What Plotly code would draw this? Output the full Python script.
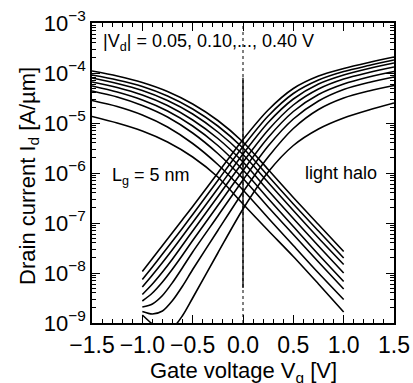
import plotly.graph_objects as go

# Drain voltages |Vd| (V)
vd_values = [0.05, 0.10, 0.15, 0.20, 0.25, 0.30, 0.35, 0.40]

# n-type branch (current rises with Vg), log10(Id [A/um])
vg_rise = [-1.0, -0.9, -0.8, -0.7, -0.6, -0.5, -0.25, 0.0, 0.25, 0.5, 0.75, 1.0, 1.25, 1.5]
log_id_rise_005 = [-8.84, -9.02, -9.15, -9.10, -8.85, -8.50, -7.60, -6.72, -5.98, -5.45, -5.12, -4.90, -4.74, -4.60]
log_id_rise_010 = [-8.77, -8.82, -8.76, -8.55, -8.26, -7.93, -7.15, -6.38, -5.68, -5.11, -4.73, -4.50, -4.36, -4.25]
log_id_rise_015 = [-8.68, -8.62, -8.45, -8.19, -7.89, -7.58, -6.86, -6.14, -5.46, -4.92, -4.56, -4.33, -4.19, -4.08]
log_id_rise_020 = [-8.56, -8.40, -8.18, -7.92, -7.64, -7.35, -6.65, -5.95, -5.29, -4.77, -4.43, -4.22, -4.08, -3.97]
log_id_rise_025 = [-8.43, -8.22, -7.98, -7.72, -7.44, -7.16, -6.47, -5.78, -5.14, -4.64, -4.32, -4.12, -3.99, -3.88]
log_id_rise_030 = [-8.28, -8.04, -7.79, -7.53, -7.26, -6.99, -6.31, -5.62, -4.99, -4.52, -4.22, -4.04, -3.91, -3.80]
log_id_rise_035 = [-8.13, -7.88, -7.62, -7.36, -7.10, -6.83, -6.15, -5.47, -4.86, -4.41, -4.14, -3.97, -3.85, -3.74]
log_id_rise_040 = [-7.97, -7.71, -7.45, -7.19, -6.93, -6.67, -6.00, -5.33, -4.74, -4.31, -4.06, -3.91, -3.79, -3.68]

# p-type branch (current falls with Vg)
vg_fall = [-1.5, -1.25, -1.0, -0.75, -0.5, -0.25, 0.0, 0.25, 0.5, 0.75, 1.0]
log_id_fall_005 = [-4.87, -5.00, -5.16, -5.38, -5.68, -6.08, -6.62, -7.15, -7.67, -8.22, -8.78]
log_id_fall_010 = [-4.55, -4.67, -4.84, -5.08, -5.41, -5.83, -6.34, -6.90, -7.45, -8.00, -8.53]
log_id_fall_015 = [-4.36, -4.48, -4.65, -4.88, -5.20, -5.61, -6.11, -6.68, -7.23, -7.78, -8.32]
log_id_fall_020 = [-4.26, -4.38, -4.54, -4.76, -5.06, -5.45, -5.94, -6.51, -7.07, -7.63, -8.17]
log_id_fall_025 = [-4.18, -4.29, -4.44, -4.65, -4.94, -5.31, -5.78, -6.35, -6.91, -7.46, -8.00]
log_id_fall_030 = [-4.10, -4.21, -4.35, -4.55, -4.82, -5.18, -5.63, -6.19, -6.75, -7.30, -7.83]
log_id_fall_035 = [-4.04, -4.14, -4.27, -4.46, -4.72, -5.06, -5.50, -6.06, -6.62, -7.16, -7.70]
log_id_fall_040 = [-3.96, -4.06, -4.19, -4.37, -4.62, -4.95, -5.38, -5.93, -6.49, -7.03, -7.57]

# Vg = 0 marker line
vg_zero = [0.0, 0.0]
id_zero_full = [1e-9, 1e-3]
id_zero_solid = [8e-5, 5e-9]

x_tick_vals = [-1.5, -1.0, -0.5, 0.0, 0.5, 1.0, 1.5]
x_tick_text = ["\u22121.5", "\u22121.0", "\u22120.5", "0.0", "0.5", "1.0", "1.5"]
y_tick_vals = [1e-9, 1e-8, 1e-7, 1e-6, 1e-5, 1e-4, 1e-3]
y_tick_text = ["10<sup>\u22129</sup>", "10<sup>\u22128</sup>", "10<sup>\u22127</sup>", "10<sup>\u22126</sup>",
               "10<sup>\u22125</sup>", "10<sup>\u22124</sup>", "10<sup>\u22123</sup>"]

rise_sets = [log_id_rise_005, log_id_rise_010, log_id_rise_015, log_id_rise_020,
             log_id_rise_025, log_id_rise_030, log_id_rise_035, log_id_rise_040]
fall_sets = [log_id_fall_005, log_id_fall_010, log_id_fall_015, log_id_fall_020,
             log_id_fall_025, log_id_fall_030, log_id_fall_035, log_id_fall_040]

FONT = "Liberation Sans, Arial, sans-serif"
fig = go.Figure()

fig.add_trace(go.Scatter(x=vg_zero, y=id_zero_full, mode="lines",
                         line=dict(color="black", width=1, dash="dot"), showlegend=False))
fig.add_trace(go.Scatter(x=vg_zero, y=id_zero_solid, mode="lines",
                         line=dict(color="black", width=1.3), showlegend=False))

for vd, vals in zip(vd_values, rise_sets):
    fig.add_trace(go.Scatter(x=vg_rise, y=[10 ** v for v in vals], mode="lines",
                             line=dict(color="black", width=1.6, shape="spline", smoothing=0.8),
                             name=f"n {vd}", showlegend=False))
for vd, vals in zip(vd_values, fall_sets):
    fig.add_trace(go.Scatter(x=vg_fall, y=[10 ** v for v in vals], mode="lines",
                             line=dict(color="black", width=1.6, shape="spline", smoothing=0.8),
                             name=f"p {vd}", showlegend=False))

fig.update_layout(
    width=413, height=383,
    margin=dict(l=92, r=19, t=23, b=60, autoexpand=False),
    paper_bgcolor="white", plot_bgcolor="white",
    font=dict(family=FONT, color="black", size=22),
    showlegend=False,
    xaxis=dict(
        range=[-1.5, 1.5], tickvals=x_tick_vals, ticktext=x_tick_text,
        ticks="inside", ticklen=8, tickwidth=1.3, tickcolor="black",
        ticklabelstandoff=1,
        minor=dict(ticks="inside", ticklen=4, dtick=0.1, tickwidth=1, tickcolor="black", showgrid=False),
        showline=True, linecolor="black", linewidth=1.5, mirror="allticks",
        showgrid=False, zeroline=False,
        tickfont=dict(size=23),
        automargin=False,
    ),
    yaxis=dict(
        type="log", range=[-9, -3], tickvals=y_tick_vals, ticktext=y_tick_text,
        ticks="inside", ticklen=8, tickwidth=1.3, tickcolor="black",
        minor=dict(ticks="inside", ticklen=4, dtick="D1", tickwidth=1, tickcolor="black", showgrid=False),
        showline=True, linecolor="black", linewidth=1.5, mirror="allticks",
        showgrid=False, zeroline=False,
        tickfont=dict(size=22),
        automargin=False,
    ),
    annotations=[
        dict(x=0.5, y=-0.163, xref="paper", yref="paper", xanchor="center", yanchor="middle",
             text="Gate voltage V<sub>g</sub> [V]", showarrow=False, font=dict(size=22)),
        dict(x=-0.209, y=0.49, xref="paper", yref="paper", xanchor="center", yanchor="middle",
             text="Drain current I<sub>d</sub> [A/\u00b5m]", textangle=-90, showarrow=False, font=dict(size=22)),
        dict(x=0.03, y=0.935, xref="paper", yref="paper", xanchor="left", yanchor="middle",
             text="|V<sub>d</sub>| = 0.05, 0.10,..., 0.40 V", showarrow=False, font=dict(size=18)),
        dict(x=0.06, y=0.49, xref="paper", yref="paper", xanchor="left", yanchor="middle",
             text="L<sub>g</sub> = 5 nm", showarrow=False, font=dict(size=18)),
        dict(x=0.70, y=0.50, xref="paper", yref="paper", xanchor="left", yanchor="middle",
             text="light halo", showarrow=False, font=dict(size=18)),
    ],
)

fig.write_html("out.html", config={"displayModeBar": False},
               post_script="document.body.style.margin='0';")
